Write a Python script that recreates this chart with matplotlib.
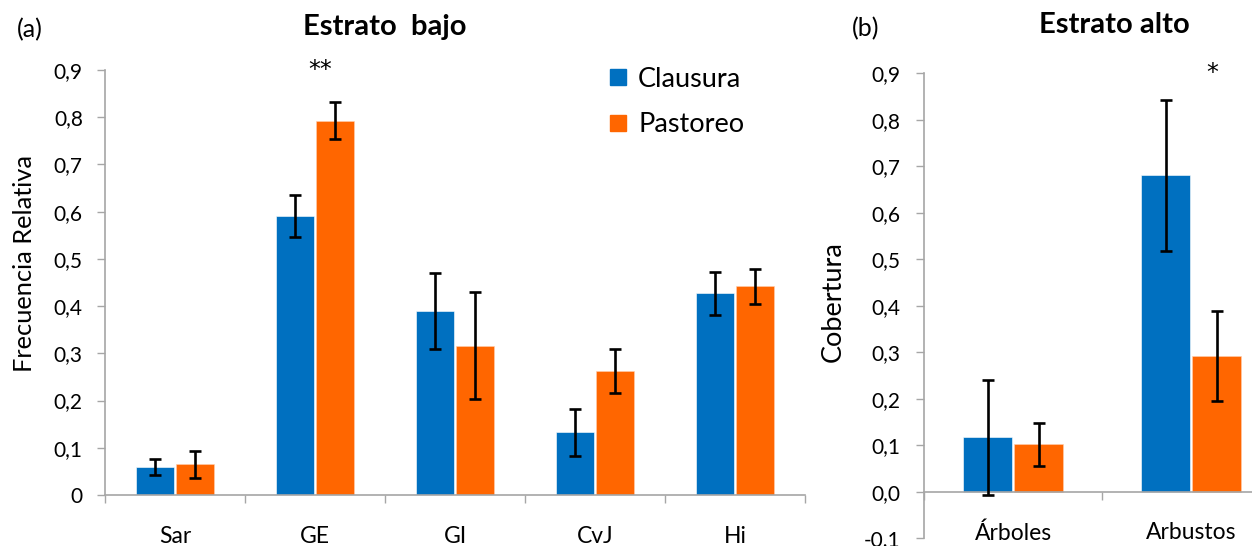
import numpy as np
import matplotlib
matplotlib.use("Agg")
import matplotlib.pyplot as plt
from matplotlib.lines import Line2D

plt.rcParams['font.family'] = ['Lato', 'DejaVu Sans']

# (a) lower stratum: relative frequency
low_groups = ["Sar", "GE", "GI", "CvJ", "Hi"]
low_clausura = [0.060, 0.591, 0.390, 0.133, 0.427]
low_clausura_err = [0.017, 0.045, 0.080, 0.050, 0.045]
low_pastoreo = [0.065, 0.793, 0.316, 0.262, 0.442]
low_pastoreo_err = [0.028, 0.040, 0.113, 0.047, 0.037]

# (b) upper stratum: cover
high_groups = ["Árboles", "Arbustos"]
high_clausura = [0.117, 0.680]
high_clausura_err = [0.124, 0.163]
high_pastoreo = [0.102, 0.291]
high_pastoreo_err = [0.046, 0.097]

blue = "#0070C0"
orange = "#FF6600"
grey = "#A6A6A6"

fig = plt.figure(figsize=(12.52, 5.46), dpi=100)

ax1 = fig.add_axes([105 / 1252, 1 - 495 / 546, 700 / 1252, 425 / 546])
ax2 = fig.add_axes([924.3 / 1252, 1 - 538.1 / 546, 356 / 1252, 465 / 546])

width = 0.275
off = 0.143
err_kw = dict(fmt='none', ecolor='black', elinewidth=1.9, capsize=4.6, capthick=1.9, zorder=3)


def draw(ax, groups, c, ce, p, pe):
    x = np.arange(len(groups))
    ax.bar(x - off, c, width, color=blue, edgecolor='white', linewidth=0.4, zorder=2)
    ax.bar(x + off, p, width, color=orange, edgecolor='#FFD0B0', linewidth=0.4, zorder=2)
    ax.errorbar(x - off, c, yerr=ce, **err_kw)
    ax.errorbar(x + off, p, yerr=pe, **err_kw)
    ax.set_xlim(-0.5, len(groups) - 0.5)
    for s in ('top', 'right'):
        ax.spines[s].set_visible(False)
    for s in ('left', 'bottom'):
        ax.spines[s].set_color(grey)
        ax.spines[s].set_linewidth(1.2)
    return x


def style_ticks(ax, groups):
    x = np.arange(len(groups))
    ax.set_xticks(x)
    ax.set_xticklabels(groups)
    ax.set_xticks(np.arange(len(groups) + 1) - 0.5, minor=True)
    ax.tick_params(axis='x', which='major', length=0, pad=22, labelsize=16.5)
    ax.tick_params(axis='x', which='minor', length=6, width=1, color=grey, direction='out')
    ax.tick_params(axis='y', length=6, width=1, color=grey, direction='out', labelsize=15)


draw(ax1, low_groups, low_clausura, low_clausura_err, low_pastoreo, low_pastoreo_err)
ax1.set_ylim(0, 0.9)
ax1.set_yticks(np.arange(0, 0.91, 0.1))
ax1.set_yticklabels(["0"] + [f"0,{i}" for i in range(1, 10)])
style_ticks(ax1, low_groups)
ax1.tick_params(axis='y', pad=10)
ax1.set_ylabel("Frecuencia Relativa", fontsize=18.3)
ax1.yaxis.set_label_coords(-0.099, 0.544)
ax1.text(1.04, 0.9, "**", ha='center', va='center', fontsize=17, family='DejaVu Sans')

handles = [Line2D([], [], marker='s', linestyle='none', markersize=12, color=blue),
           Line2D([], [], marker='s', linestyle='none', markersize=12, color=orange)]
ax1.legend(handles, ["Clausura", "Pastoreo"], loc='upper left',
           bbox_to_anchor=(475 / 700, 1.065), frameon=False, fontsize=19.5,
           handletextpad=0.25, labelspacing=0.75, handlelength=1.0)

draw(ax2, high_groups, high_clausura, high_clausura_err, high_pastoreo, high_pastoreo_err)
ax2.set_ylim(-0.1, 0.9)
ax2.spines['bottom'].set_position(('data', 0))
ax2.set_yticks(np.arange(-0.1, 0.91, 0.1))
ax2.set_yticklabels(["-0,1", "0,0"] + [f"0,{i}" for i in range(1, 10)])
style_ticks(ax2, high_groups)
ax2.tick_params(axis='y', pad=11)
ax2.set_ylabel("Cobertura", fontsize=19.5)
ax2.yaxis.set_label_coords(-0.22, 0.508)
ax2.text(1.12, 0.9, "*", ha='center', va='center', fontsize=17, family='DejaVu Sans')

fig.text(385 / 1252, 1 - 27 / 546, "Estrato  bajo", ha='center', va='center',
         fontsize=21, fontweight='bold')
fig.text(1114 / 1252, 1 - 25 / 546, "Estrato alto", ha='center', va='center',
         fontsize=21, fontweight='bold')
fig.text(30 / 1252, 1 - 30 / 546, "(a)", ha='center', va='center', fontsize=18)
fig.text(866 / 1252, 1 - 29 / 546, "(b)", ha='center', va='center', fontsize=18)

fig.savefig("out.png", dpi=100)
